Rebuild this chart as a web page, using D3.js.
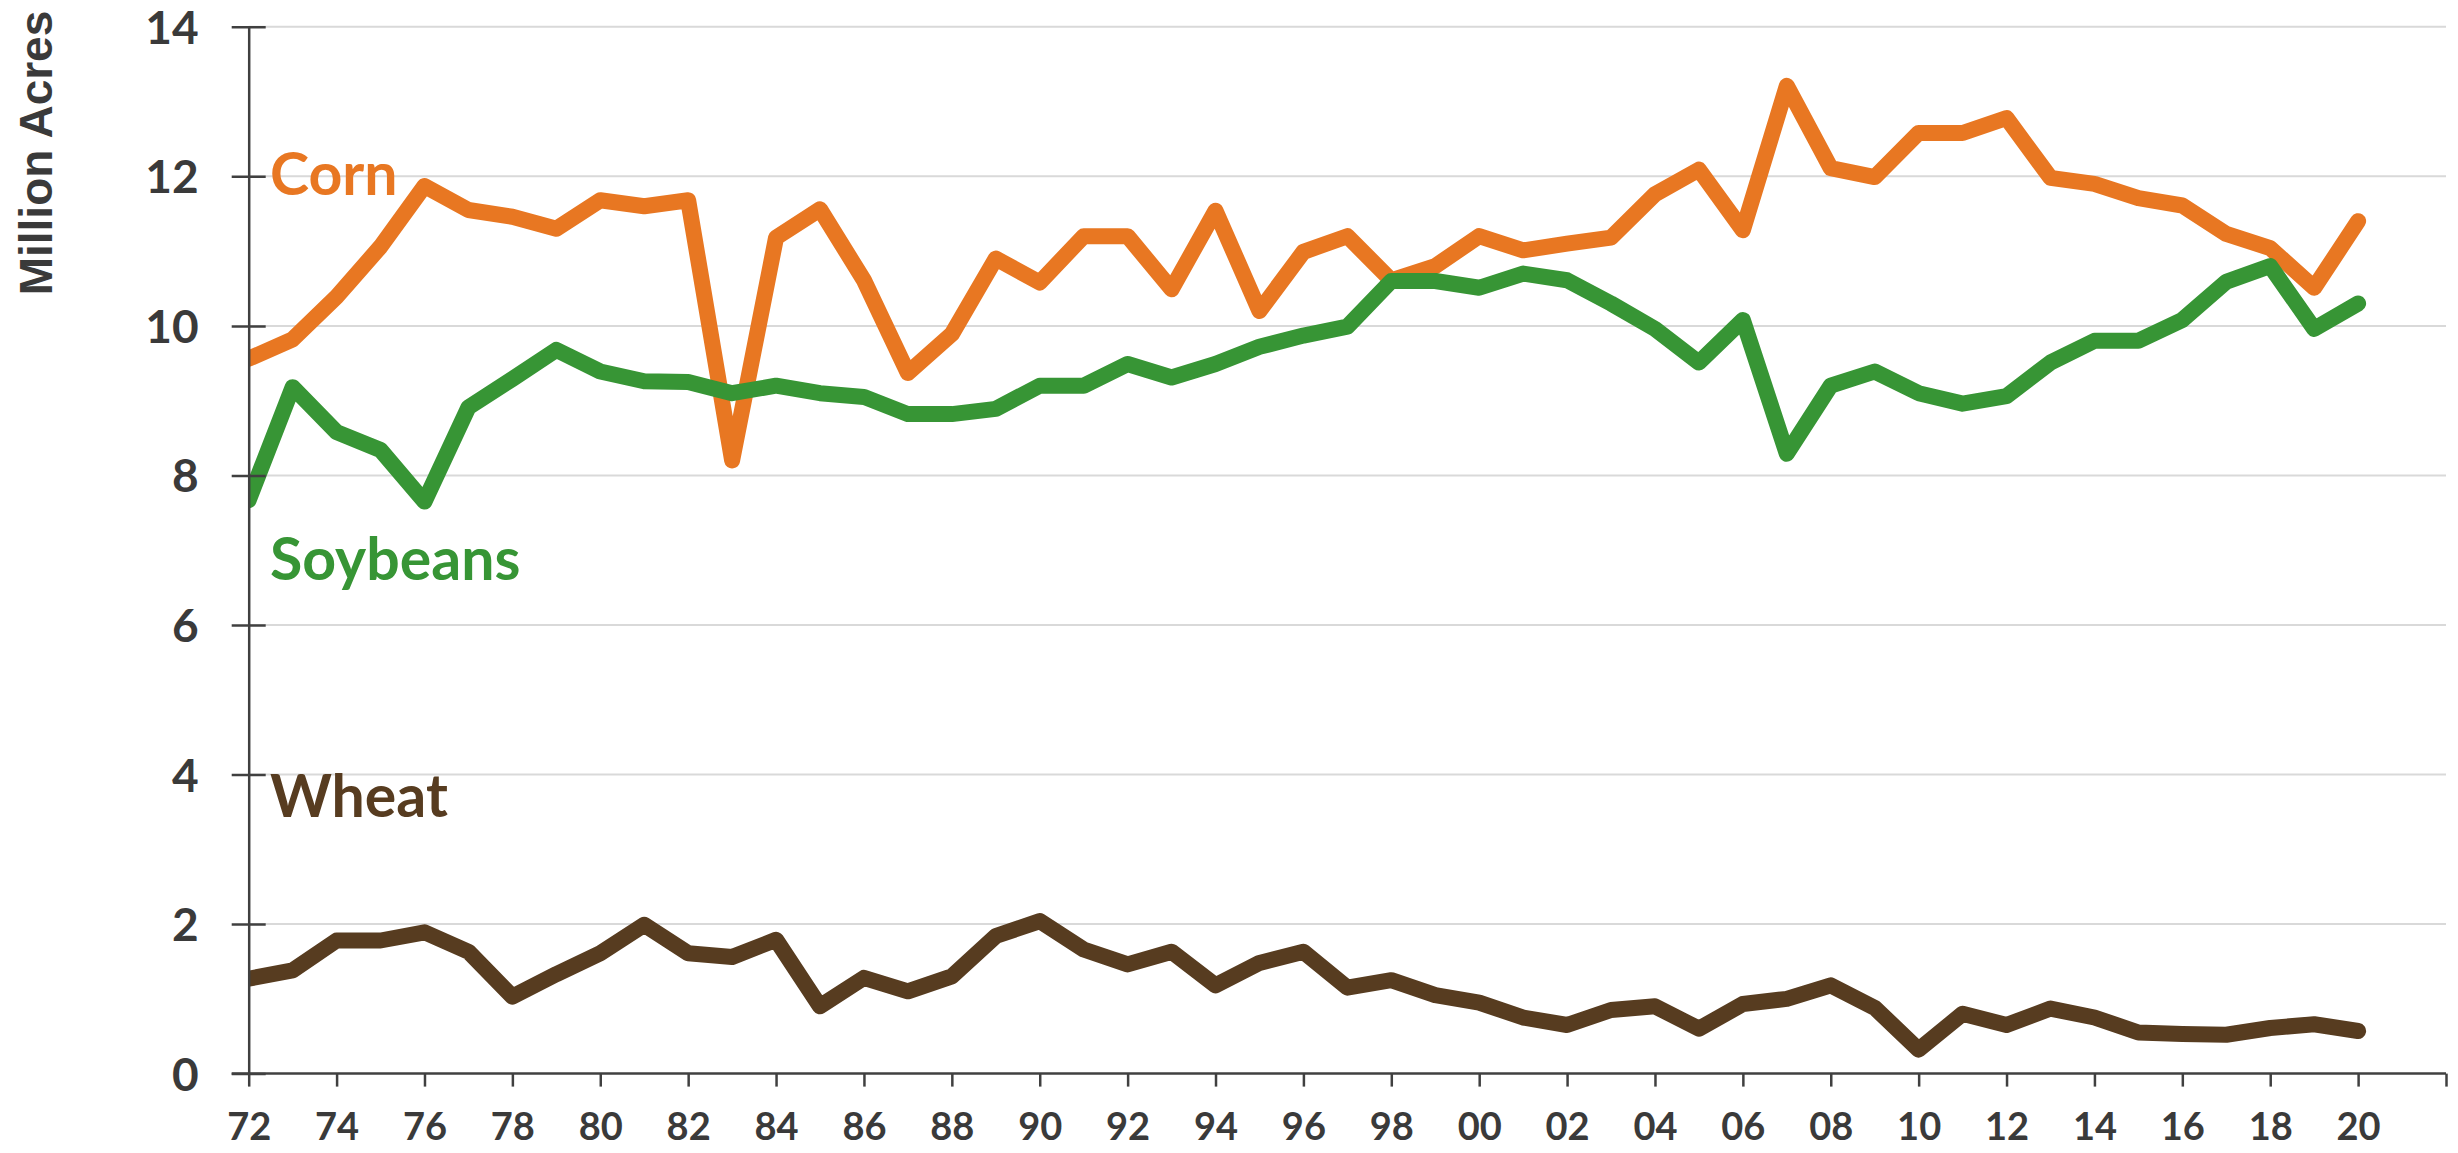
<!DOCTYPE html>
<html>
<head>
<meta charset="utf-8">
<script src="https://cdn.jsdelivr.net/npm/d3@7"></script>
<style>
  html, body { margin: 0; padding: 0; background: #ffffff; }
  svg { display: block; }
</style>
</head>
<body>
<svg id="chart" width="2458" height="1153"></svg>
<script>
const years = d3.range(1972, 2021);
const corn = [9.56, 9.82, 10.39, 11.06, 11.87, 11.55, 11.46, 11.30, 11.68, 11.60, 11.68,
  8.2, 11.18, 11.56, 10.61, 9.37, 9.89, 10.9, 10.58, 11.2, 11.2, 10.49, 11.54, 10.2,
  10.99, 11.2, 10.61, 10.8, 11.2, 11.01, 11.1, 11.18, 11.76, 12.09, 11.28, 13.21, 12.11, 11.99, 12.58,
  12.58, 12.78, 11.98, 11.9, 11.71, 11.61, 11.23, 11.04, 10.51, 11.4];
const soybeans = [7.67, 9.18, 8.58, 8.34, 7.65, 8.91, 9.29, 9.68, 9.39, 9.26, 9.25,
  9.1, 9.2, 9.1, 9.05, 8.82, 8.82, 8.89, 9.2, 9.2, 9.49, 9.31, 9.49, 9.72,
  9.87, 9.99, 10.6, 10.6, 10.51, 10.7, 10.61, 10.3, 9.96, 9.51, 10.08, 8.29, 9.2, 9.39, 9.1,
  8.96, 9.06, 9.51, 9.8, 9.8, 10.08, 10.59, 10.8, 9.96, 10.3];
const wheat = [1.27, 1.38, 1.78, 1.78, 1.89, 1.63, 1.03, 1.33, 1.61, 1.99, 1.61,
  1.56, 1.79, 0.9, 1.28, 1.1, 1.3, 1.84, 2.04, 1.66, 1.46, 1.63, 1.18, 1.48,
  1.63, 1.15, 1.25, 1.05, 0.95, 0.75, 0.65, 0.85, 0.9, 0.6, 0.93, 1.0, 1.18, 0.88, 0.32,
  0.8, 0.65, 0.87, 0.75, 0.55, 0.53, 0.52, 0.61, 0.66, 0.57];
const seriesNames = ["Corn", "Soybeans", "Wheat"];
const seriesColors = ["#E87722", "#379535", "#573C20"];
const yTicks = [0, 2, 4, 6, 8, 10, 12, 14];
const xTicks = d3.range(1972, 2023, 2);
const yTitle = "Million Acres";

const svg = d3.select("#chart");
const x = d3.scaleLinear().domain([1972, 2022]).range([248.7, 2446]);
const y = d3.scaleLinear().domain([0, 14]).range([1073.6, 26.8]);

// gridlines
svg.append("g")
  .selectAll("line")
  .data(yTicks.filter(d => d > 0))
  .join("line")
  .attr("x1", x(1972)).attr("x2", x(2022))
  .attr("y1", d => y(d)).attr("y2", d => y(d))
  .attr("stroke", "#d9d9d9").attr("stroke-width", 2);

// clip
svg.append("clipPath").attr("id", "plotclip")
  .append("rect").attr("x", x(1972)).attr("y", 0).attr("width", 2458 - x(1972)).attr("height", 1153);

const series = [corn, soybeans, wheat];
const line = d3.line().x((d, i) => x(years[i])).y(d => y(d));
const lg = svg.append("g").attr("clip-path", "url(#plotclip)");
series.forEach((s, k) => {
  lg.append("path")
    .datum(s)
    .attr("d", line)
    .attr("fill", "none")
    .attr("stroke", seriesColors[k])
    .attr("stroke-width", 16)
    .attr("stroke-linejoin", "round")
    .attr("stroke-linecap", "round");
});

// y axis
const yAxis = d3.axisLeft(y).tickValues(yTicks).tickSize(0).tickPadding(0).tickFormat(d3.format("d"));
const gy = svg.append("g").attr("transform", `translate(${x(1972)},0)`).call(yAxis);
gy.select(".domain").attr("stroke", "#404040").attr("stroke-width", 2.5);
gy.selectAll(".tick line").remove();
gy.selectAll(".tick").append("line")
  .attr("x1", -17).attr("x2", 17).attr("stroke", "#404040").attr("stroke-width", 2.5);
gy.selectAll(".tick text")
  .attr("x", -50)
  .attr("dy", "0.36em")
  .attr("fill", "#3a3a3a")
  .style("font-family", "Lato, 'Open Sans', sans-serif")
  .style("font-weight", "700")
  .style("font-size", "46px");

// x axis
const xAxis = d3.axisBottom(x).tickValues(xTicks).tickSize(13).tickPadding(0)
  .tickFormat(d => d === 2022 ? "" : String(d % 100).padStart(2, "0"));
const gx = svg.append("g").attr("transform", `translate(0,${y(0)})`).call(xAxis);
gx.select(".domain").attr("stroke", "#404040").attr("stroke-width", 2.5).attr("d", `M${x(1972) - 17},0H${x(2022)}`);
gx.selectAll(".tick line").attr("stroke", "#404040").attr("stroke-width", 2.5);
gx.selectAll(".tick text")
  .attr("y", 53)
  .attr("dy", "0.36em")
  .attr("fill", "#3a3a3a")
  .style("font-family", "Lato, 'Open Sans', sans-serif")
  .style("font-weight", "700")
  .style("font-size", "38px");

// y title
svg.append("text")
  .attr("transform", `translate(52,153) rotate(-90)`)
  .attr("text-anchor", "middle")
  .attr("fill", "#3a3a3a")
  .style("font-family", "'Liberation Sans', Arial, sans-serif")
  .style("font-weight", "700")
  .style("font-size", "46px")
  .text(yTitle);

// series labels
const labelBase = [195, 580, 817];
seriesNames.forEach((n, k) => {
  svg.append("text")
    .attr("x", 270)
    .attr("y", labelBase[k])
    .attr("fill", seriesColors[k])
    .style("font-family", "Lato, 'Open Sans', sans-serif")
    .style("font-weight", "700")
    .style("font-size", "59px")
    .text(n);
});
</script>
</body>
</html>
